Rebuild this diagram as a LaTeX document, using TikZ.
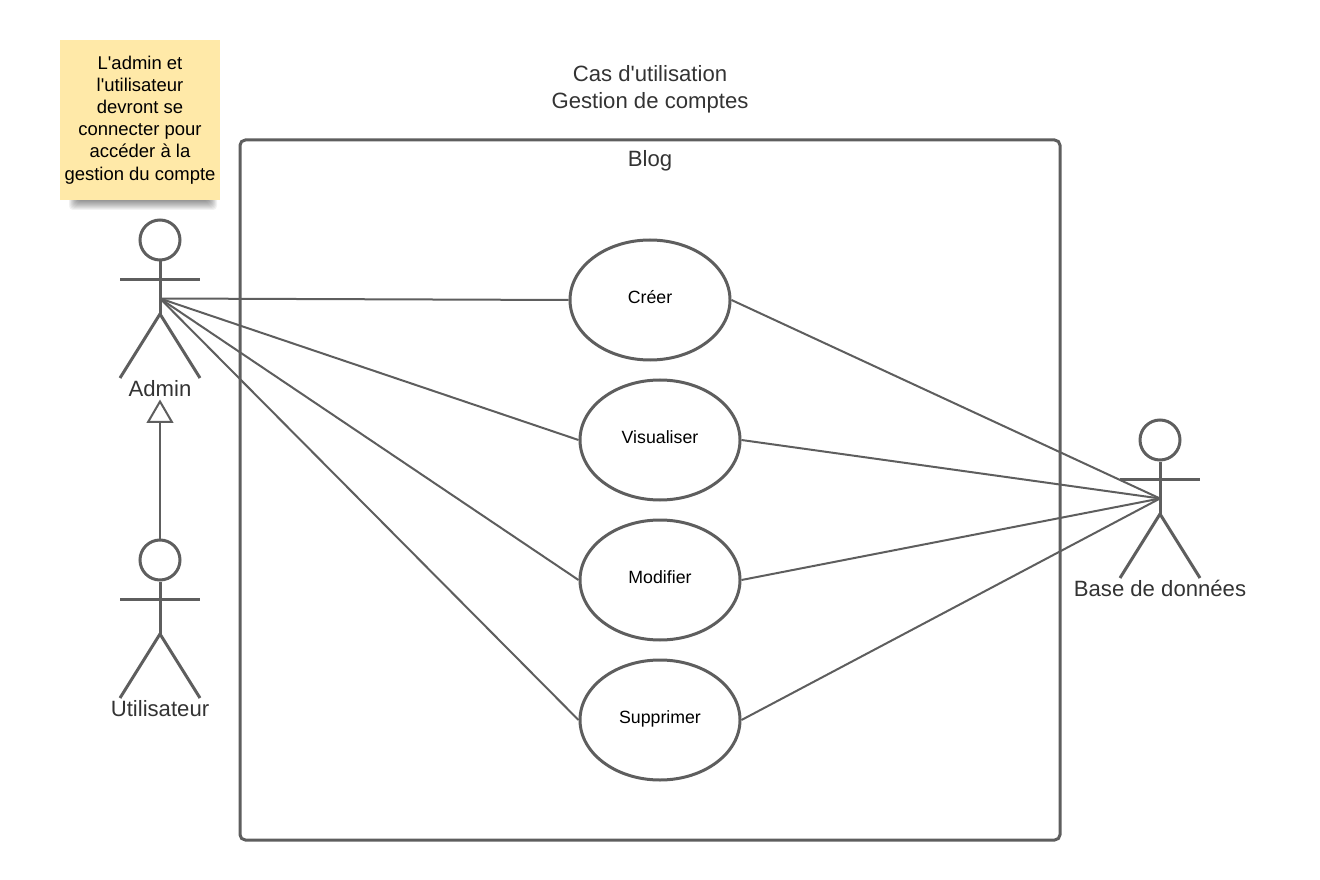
\documentclass[tikz,border=0pt]{standalone}
\usepackage{fontspec}
\setmainfont{Liberation Sans}
\usetikzlibrary{arrows.meta,shapes.geometric}
\definecolor{ink}{HTML}{5E5E5E}
\definecolor{txt}{HTML}{333333}
\definecolor{sticky}{HTML}{FFE9A8}
\tikzset{
  edge/.style={draw=ink,line width=1.5pt},
  limb/.style={draw=ink,line width=2.25pt},
  usecase/.style={ellipse,draw=ink,line width=2.25pt,fill=white,minimum width=120pt,minimum height=90pt,inner sep=0pt},
  uctext/.style={font=\fontsize{13.3}{16}\selectfont,text=black,inner sep=0pt},
  head/.style={circle,draw=ink,line width=2.25pt,minimum size=30pt,inner sep=0pt},
  label/.style={font=\fontsize{16.6}{20}\selectfont,text=txt,inner sep=0pt,align=center},
}
\newcommand{\actor}[3]{% name, x, y of head centre
  \node[head] (#1head) at (#2,#3) {};
  \coordinate (#1hip) at (#2,#3+58.5);
  \coordinate (#1crotch) at (#2,#3+74);
  \coordinate (#1la) at (#2-40,#3+39.5);
  \coordinate (#1ra) at (#2+40,#3+39.5);
  \coordinate (#1lf) at (#2-40,#3+138);
  \coordinate (#1rf) at (#2+40,#3+138);
  \draw[limb] (#1head.south) -- (#1crotch);
  \draw[limb] (#1la) -- (#1ra);
  \draw[limb] (#1lf) -- (#1crotch) -- (#1rf);
}
\begin{document}
\begin{tikzpicture}[x=0.75pt,y=-0.75pt]
\useasboundingbox (0,0) rectangle (1320,880);
% sticky shadow
\foreach \d in {0,1,...,9}{
  \fill[black,opacity=.05,rounded corners=3pt] (69+\d*.9,194) rectangle (217-\d*.9,210-\d*1);
}
\node[fill=sticky,minimum width=120pt,minimum height=120pt,inner sep=0pt,align=center,font=\fontsize{13.85}{16.6}\selectfont,text=black] (note) at (140,120) {L\textquotesingle admin et\\l\textquotesingle utilisateur\\devront se\\connecter pour\\accéder à la\\gestion du compte};
\node[label,font=\fontsize{16.6}{20.3}\selectfont] (title) at (650,89.5) {Cas d\textquotesingle utilisation\\Gestion de comptes};
\node[draw=ink,line width=2.25pt,rounded corners=4pt,minimum width=615pt,minimum height=525pt,inner sep=0pt] (sys) at (650,490) {};
\node[label] (blog) at (650,161) {Blog};
\actor{admin}{160}{240}
\actor{user}{160}{560}
\actor{db}{1160}{440}
\node[label] (adminl) at (160,389) {Admin};
\node[label] (userl) at (160,709) {Utilisateur};
\node[label] (dbl) at (1160,588) {Base de données};
\node[usecase] (c) at (650,300) {}; \node[uctext] (ct) at (650,297.5) {Créer};
\node[usecase] (v) at (660,440) {}; \node[uctext] (vt) at (660,437.5) {Visualiser};
\node[usecase] (m) at (660,580) {}; \node[uctext] (mt) at (660,577.5) {Modifier};
\node[usecase] (s) at (660,720) {}; \node[uctext] (st) at (660,718.5) {Supprimer};
\foreach \n in {c,v,m,s}{
  \draw[edge] (adminhip) -- (\n.west);
  \draw[edge] (\n.east) -- (dbhip);
}
\coordinate (tip) at (160,399.5);
\draw[edge,-{Triangle[open,length=17.5pt,width=20pt,fill=white]}] (userhead.north) -- (tip);
\end{tikzpicture}
\end{document}
